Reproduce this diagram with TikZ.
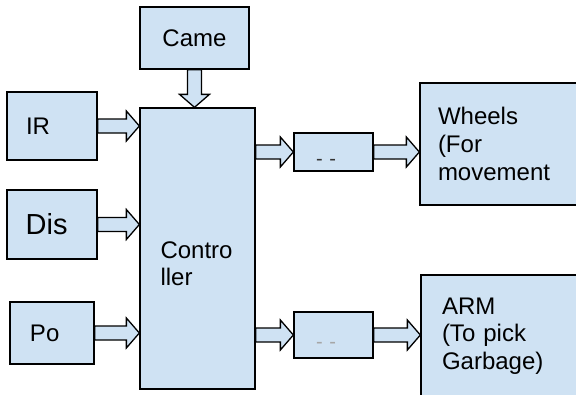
\documentclass[tikz,border=0pt]{standalone}
\usepackage{fontspec}
\setmainfont{Liberation Sans}
\usetikzlibrary{calc}
\definecolor{boxblue}{HTML}{CFE2F3}

\begin{document}
\begin{tikzpicture}[
    x=1pt, y=-1pt,
    box/.style={rectangle, draw, fill=boxblue, line width=1.3pt, inner ysep=0pt, align=left,
      font=\fontsize{24}{27.6}\selectfont},
    drv/.style={box, minimum width=79pt, text width=35pt, inner xsep=22pt,
      font=\fontsize{20}{24}\selectfont, text height=27pt, text depth=0pt},
    blockarrow/.style={draw, fill=boxblue, line width=1.3pt, line join=miter,
      to path={($(\tikztostart)!7pt!90:(\tikztotarget)$)
        -- ($(\tikztotarget)!13pt!(\tikztostart)!7pt!90:(\tikztotarget)$)
        -- ($(\tikztotarget)!13pt!(\tikztostart)!15pt!90:(\tikztotarget)$)
        -- (\tikztotarget)
        -- ($(\tikztotarget)!13pt!(\tikztostart)!15pt!-90:(\tikztotarget)$)
        -- ($(\tikztotarget)!13pt!(\tikztostart)!7pt!-90:(\tikztotarget)$)
        -- ($(\tikztostart)!7pt!-90:(\tikztotarget)$) -- cycle}}
]
\useasboundingbox (0,0) rectangle (576,394);

% Inputs
\node[box, minimum width=109pt, minimum height=62pt, align=center] (cam) at (194.5,38) {Came};
\node[box, text width=52pt, inner xsep=19pt, minimum height=68pt] (ir) at (52,126) {IR};
\node[box, text width=52.6pt, inner xsep=18.7pt, minimum height=69pt,
  font=\fontsize{29}{33}\selectfont] (dis) at (52,224.5) {Dis};
\node[box, text width=44pt, inner xsep=20pt, minimum height=62pt] (po) at (52,333) {Po};

% Controller
\node[box, minimum width=115pt, minimum height=281pt,
  label={[font=\fontsize{24}{27.6}\selectfont, align=left, inner sep=0pt,
    anchor=north west, xshift=21pt, yshift=-134pt]north west:Contro\\ller}] (ctrl) at (197.5,248.5) {};

% Outputs
\node[drv, minimum height=38pt, text=black!80] (wdrv) at (333.5,152) {- -};
\node[drv, minimum height=46pt, text=black!35] (adrv) at (333.5,335) {- -};
\node[box, text width=124pt, inner xsep=18pt, minimum height=122pt] (wheels) at (500,144) {Wheels\\(For\\movement};
\node[box, text width=117pt, inner xsep=21pt, minimum height=122pt] (arm) at (500.5,336) {ARM\\(To pick\\Garbage)};

% Arrows
\draw[blockarrow] (cam.south) to (cam.south |- ctrl.north);
\draw[blockarrow] (ir.east) to (ir.east -| ctrl.west);
\draw[blockarrow] (dis.east) to (dis.east -| ctrl.west);
\draw[blockarrow] (po.east) to (po.east -| ctrl.west);
\draw[blockarrow] (ctrl.east |- wdrv.west) to (wdrv.west);
\draw[blockarrow] (wdrv.east) to (wdrv.east -| wheels.west);
\draw[blockarrow] (ctrl.east |- adrv.west) to (adrv.west);
\draw[blockarrow] (adrv.east) to (adrv.east -| arm.west);

\end{tikzpicture}
\end{document}
